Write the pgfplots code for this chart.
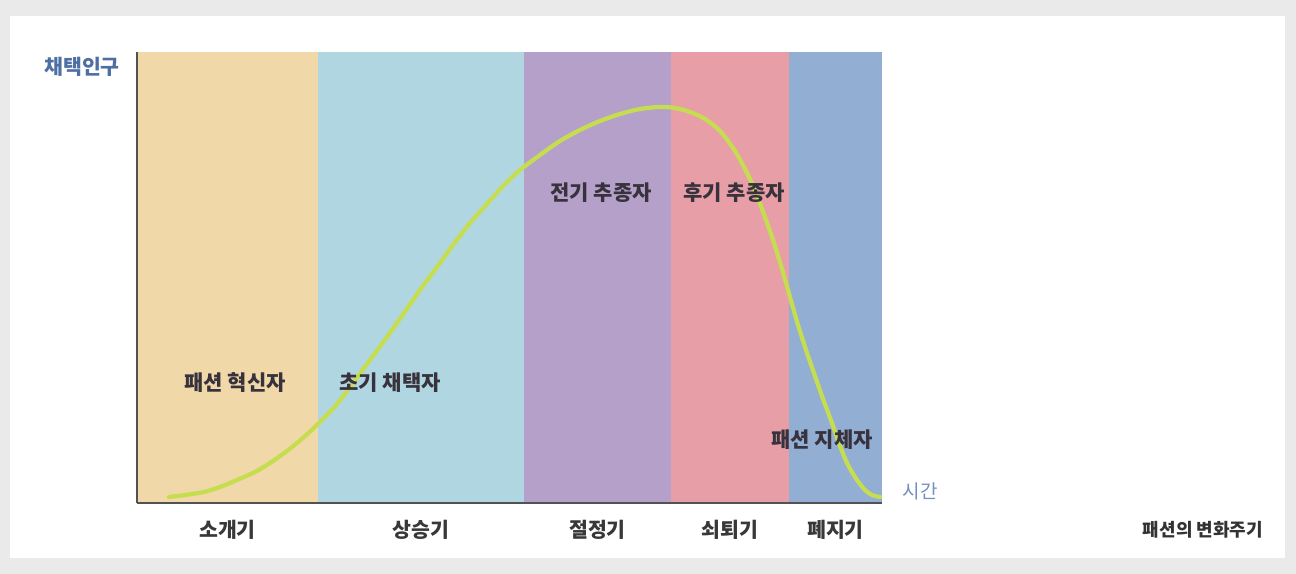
\documentclass[border=0pt]{standalone}
\usepackage{fontspec}
\setmainfont{Noto Sans CJK KR}
\usepackage{pgfplots}
\pgfplotsset{compat=1.18}
\definecolor{bgGray}{RGB}{234,234,234}
\definecolor{bOrange}{RGB}{240,216,168}
\definecolor{bBlue}{RGB}{176,214,226}
\definecolor{bPurple}{RGB}{181,160,202}
\definecolor{bPink}{RGB}{231,158,166}
\definecolor{bSteel}{RGB}{147,174,211}
\definecolor{curveC}{RGB}{198,221,80}
\definecolor{titleBlue}{RGB}{78,111,163}
\definecolor{timeBlue}{RGB}{115,144,192}
\definecolor{txtDark}{RGB}{55,50,60}
\newcommand{\fs}[1]{\fontsize{#1}{#1}\selectfont}
\begin{document}
\begin{tikzpicture}
\fill[bgGray] (0,0) rectangle (1296bp,574bp);
\fill[white] (10bp,16bp) rectangle (1285bp,558bp);
\begin{axis}[
  at={(137bp,71bp)}, anchor=south west,
  scale only axis, width=745bp, height=451bp,
  xmin=137, xmax=882, ymin=0, ymax=451,
  axis x line*=bottom, axis y line*=left,
  axis line style={-, line width=1.8bp, draw=black!68},
  every outer x axis line/.append style={-},
  every outer y axis line/.append style={-},
  axis on top,
  ytick=\empty,
  xtick={227.5,421,597.5,730,835.5},
  xticklabels={소개기,상승기,절정기,쇠퇴기,폐지기},
  major tick length=0pt,
  xticklabel style={anchor=center, yshift=-27bp, font=\fs{20.5bp}\bfseries, text=black!78},
  clip=false,
]
\addplot[fill=bOrange, draw=none] coordinates {(137,451) (318,451)} \closedcycle;
\addplot[fill=bBlue, draw=none] coordinates {(318,451) (524,451)} \closedcycle;
\addplot[fill=bPurple, draw=none] coordinates {(524,451) (671,451)} \closedcycle;
\addplot[fill=bPink, draw=none] coordinates {(671,451) (789,451)} \closedcycle;
\addplot[fill=bSteel, draw=none] coordinates {(789,451) (882,451)} \closedcycle;
\addplot[curveC, line width=4.2bp, smooth, tension=0.5, line join=round, line cap=round] coordinates {
(169,6) (185,8) (204,11) (220,16) (237,23) (255,31) (270,40) (287,52)
(304,66) (320,81) (337,99) (353,120) (370,143) (387,166) (404,190)
(420,213) (437,236) (453,258) (470,280) (487,299) (503,317) (520,333)
(540,348) (560,362) (580,373) (600,382) (620,389) (640,394) (660,396)
(675,395) (690,391) (705,384) (720,372) (735,352) (750,324) (762,294)
(773,263) (782,234) (790,206) (798,178) (807,150) (815,127) (823,104)
(832,80) (840,57) (848,38) (857,23) (865,13) (872,8) (880,6)
};
\node[font=\fs{21bp}\bfseries, text=txtDark] at (axis cs:235,120) {패션 혁신자};
\node[font=\fs{21bp}\bfseries, text=txtDark] at (axis cs:390,120) {초기 채택자};
\node[font=\fs{21bp}\bfseries, text=txtDark] at (axis cs:601,310) {전기 추종자};
\node[font=\fs{21bp}\bfseries, text=txtDark] at (axis cs:734,310) {후기 추종자};
\node[font=\fs{21bp}\bfseries, text=txtDark] at (axis cs:822,63) {패션 지체자};
\node[font=\fs{20.5bp}\bfseries, text=titleBlue] at (axis cs:82,436) {채택인구};
\node[font=\fs{19bp}, text=timeBlue] at (axis cs:920,12) {시간};
\node[font=\fs{18bp}\bfseries, text=black!80] at (axis cs:1203,-27) {패션의 변화주기};
\end{axis}
\end{tikzpicture}
\end{document}
